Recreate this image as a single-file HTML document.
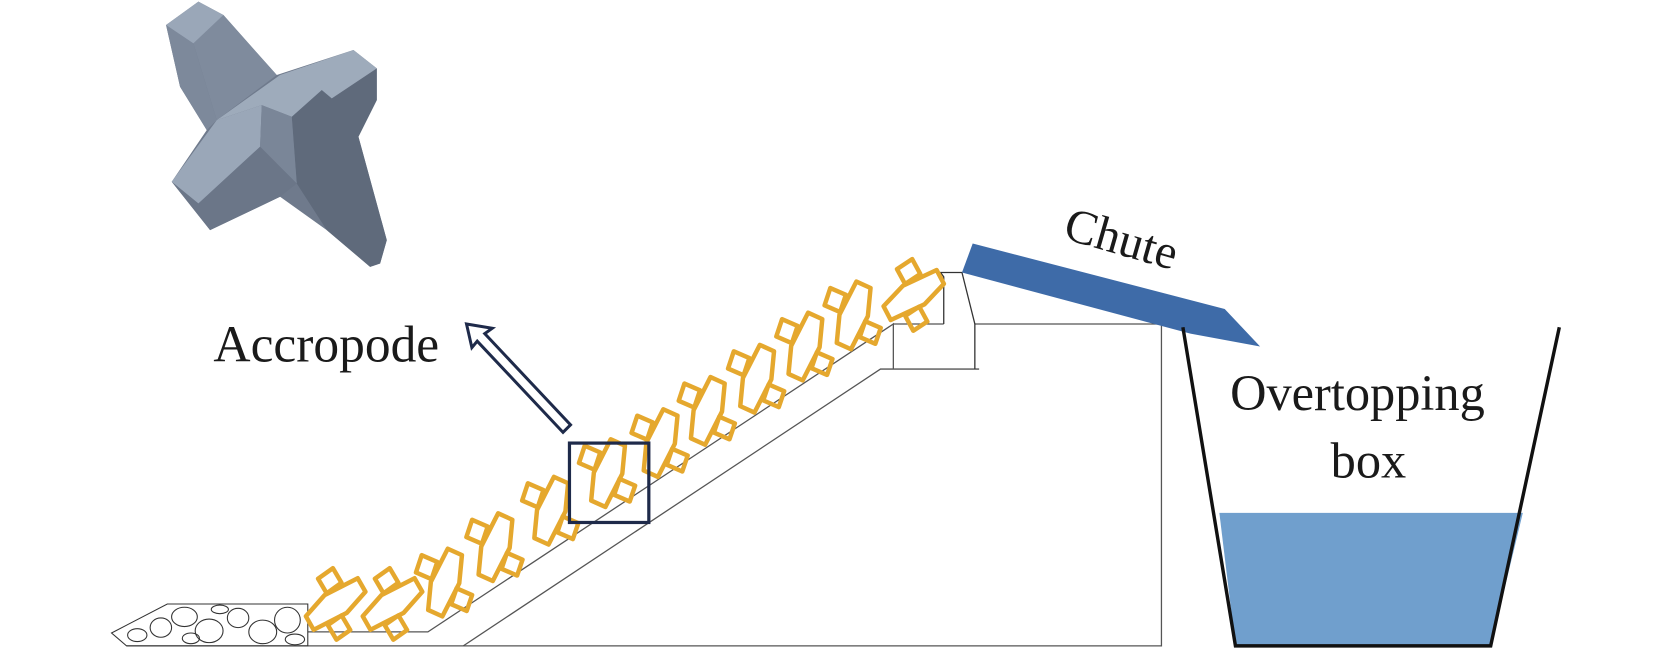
<!DOCTYPE html>
<html><head><meta charset="utf-8"><style>
html,body{margin:0;padding:0;background:#fff;}
svg{display:block;}
text{font-family:"Liberation Serif",serif;fill:#1a1a1a;}
</style></head><body>
<svg width="1673" height="648" viewBox="0 0 1560 604" preserveAspectRatio="none" xmlns="http://www.w3.org/2000/svg">
<defs>
<g id="u" fill="none" stroke="#e5a82e" stroke-width="3.2" stroke-linejoin="round">
<polygon points="-4,-24 7,-22 10,-2 4,24 -7,22 -10,2"/>
<polygon points="-9,-13 -21,-15 -22,-2 -10,0"/>
<polygon points="9,2 21,4 20,16 8,14"/>
</g>
</defs>
<!-- accropode 3D -->
<g transform="scale(0.9328)">
<g transform="translate(140,0) scale(0.3333)" stroke="none">
<polygon fill="#6f7a8c" points="78,75 175,5 250,45 410,225 640,150 710,205 710,300 655,410 740,720 720,790 690,800 560,690 420,590 210,690 95,545 200,390 120,260"/>
<polygon fill="#7d899b" points="78,75 160,130 230,360 200,390 120,260"/>
<polygon fill="#7f8b9d" points="160,130 250,45 410,225 230,360"/>
<polygon fill="#9aa7b8" points="78,75 175,5 250,45 160,130"/>
<polygon fill="#5f6a7b" points="455,350 545,270 575,295 710,205 710,300 655,410 740,720 720,790 690,800 560,690 470,550"/>
<polygon fill="#9eabbb" points="230,360 420,225 640,150 710,205 575,295 545,270 455,350 365,315"/>
<polygon fill="#9aa7b8" points="95,545 230,360 365,315 360,440 175,610"/>
<polygon fill="#7a8698" points="365,315 455,350 470,550 360,440"/>
<polygon fill="#6b7688" points="95,545 175,610 360,440 470,550 420,590 210,690"/>
</g></g>
<!-- structure lines -->
<g fill="none" stroke="#555" stroke-width="1.2">
<polyline points="118,602 1083,602 1083,302 909,302"/>
<polyline points="287,589 399,589 833,302 833,344"/>
<polyline points="432,602 821,344 913,344"/>
<polyline points="833,302 880,302"/>
<polyline points="880,302 880,258 877,254 897,254 909,302 909,344" stroke="#333"/>
</g>
<!-- stone bed -->
<g fill="none" stroke="#333" stroke-width="1">
<polygon points="104,590 156,563 287,563 287,602 118,602"/>
<ellipse cx="150" cy="585" rx="10" ry="9"/><ellipse cx="172" cy="575" rx="12" ry="9"/>
<ellipse cx="195" cy="588" rx="13" ry="11"/><ellipse cx="222" cy="576" rx="10" ry="9"/>
<ellipse cx="245" cy="589" rx="13" ry="11"/><ellipse cx="268" cy="578" rx="12" ry="12"/>
<ellipse cx="128" cy="592" rx="9" ry="6"/><ellipse cx="205" cy="568" rx="8" ry="4"/>
<ellipse cx="275" cy="596" rx="9" ry="5"/><ellipse cx="178" cy="595" rx="8" ry="5"/>
</g>
<!-- accropode units (scaled up) -->
<use href="#u" transform="translate(313,563) rotate(50) scale(1.3)"/>
<use href="#u" transform="translate(366,563) rotate(50) scale(1.3)"/>
<use href="#u" transform="translate(415,543) rotate(14) scale(1.3)"/>
<use href="#u" transform="translate(462,510) rotate(14) scale(1.3)"/>
<use href="#u" transform="translate(514,476) rotate(14) scale(1.3)"/>
<use href="#u" transform="translate(567,441) rotate(14) scale(1.3)"/>
<use href="#u" transform="translate(616,413) rotate(14) scale(1.3)"/>
<use href="#u" transform="translate(660,383) rotate(14) scale(1.3)"/>
<use href="#u" transform="translate(706,353) rotate(14) scale(1.3)"/>
<use href="#u" transform="translate(751,323) rotate(14) scale(1.3)"/>
<use href="#u" transform="translate(796,294) rotate(14) scale(1.3)"/>
<use href="#u" transform="translate(852,275) rotate(52) scale(1.3)"/>
<!-- chute -->
<polygon fill="#3e6ba8" points="907,227 1142,288 1175,323 1110,311 897,254"/>
<!-- box -->
<polygon fill="#709fcd" points="1137,478 1420,478 1390,602 1152,602"/>
<polyline fill="none" stroke="#111" stroke-width="3.2" points="1103,305 1152,602 1390,602 1454,305"/>
<!-- highlight square & arrow -->
<rect x="531" y="413" width="74" height="74" fill="none" stroke="#1e2a4a" stroke-width="3"/>
<polygon fill="#fff" stroke="#1e2a4a" stroke-width="2.8" stroke-linejoin="miter" points="435,302 459,306 452,311 532,396 525,403 445,318 440,324"/>
<!-- texts -->
<text x="199" y="337" font-size="48">Accropode</text>
<text x="1147" y="382" font-size="47">Overtopping</text>
<text x="1276" y="445" font-size="47" text-anchor="middle">box</text>
<text x="990" y="222" font-size="45" transform="rotate(16 990 222)">Chute</text>
</svg>
</body></html>
